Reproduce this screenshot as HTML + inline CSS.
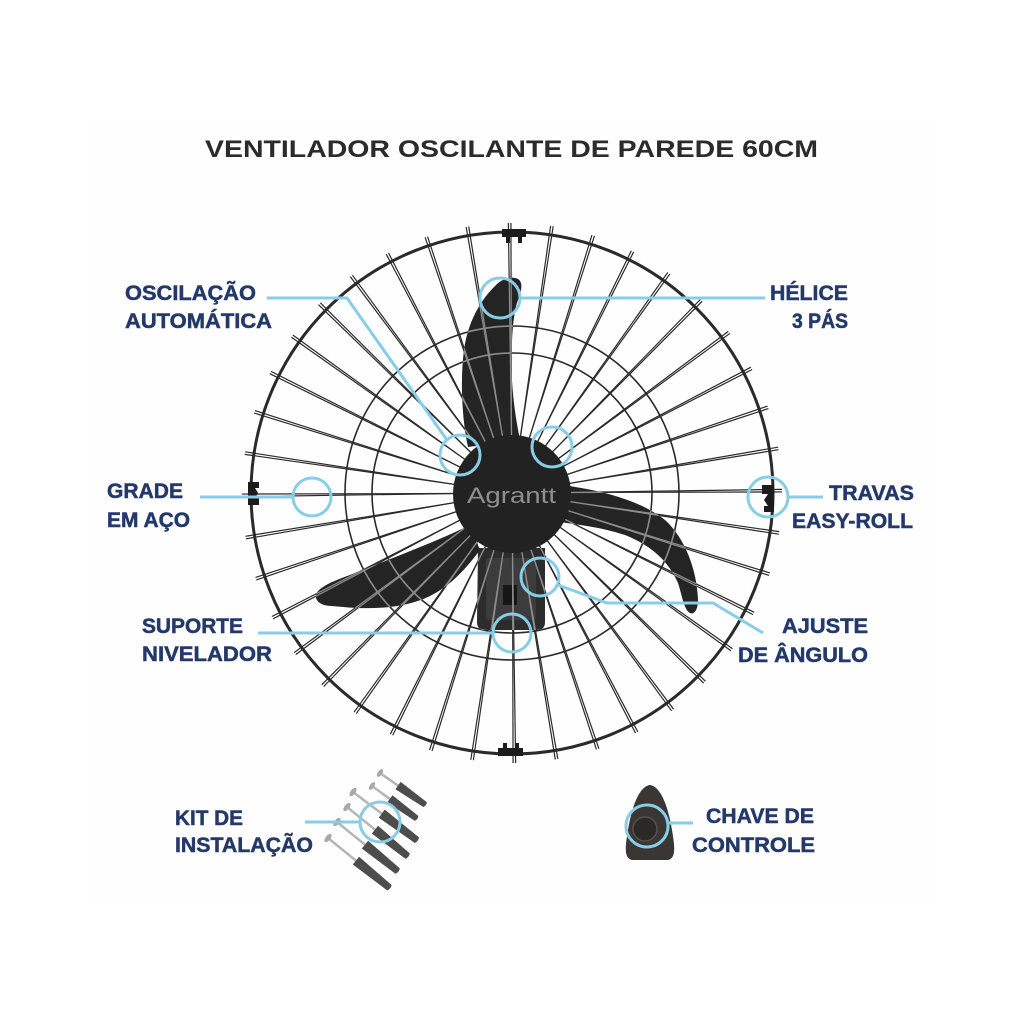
<!DOCTYPE html>
<html>
<head>
<meta charset="utf-8">
<style>
  html,body{margin:0;padding:0;background:#ffffff;}
  svg{display:block;}
  .lbl{font-family:"Liberation Sans",sans-serif;font-weight:bold;font-size:21px;fill:#24396b;stroke:#24396b;stroke-width:0.5px;}
</style>
</head>
<body>
<svg width="1024" height="1024" viewBox="0 0 1024 1024" xmlns="http://www.w3.org/2000/svg">
<defs>
  <g id="sp">
    <line x1="512" y1="435" x2="510.7" y2="223"/>
    <line x1="512" y1="435" x2="513.3" y2="223"/>
  </g>
  <g id="grille" fill="none">
    <circle cx="512" cy="493" r="261" stroke-width="3"/>
    <circle cx="512" cy="493" r="167" stroke-width="1.6"/>
    <circle cx="512" cy="493" r="140" stroke-width="1.6"/>
    <g stroke-width="1.2">
      <use href="#sp" transform="rotate(8.5 512 493)"/>
      <use href="#sp" transform="rotate(17.5 512 493)"/>
      <use href="#sp" transform="rotate(26.5 512 493)"/>
      <use href="#sp" transform="rotate(35.5 512 493)"/>
      <use href="#sp" transform="rotate(44.5 512 493)"/>
      <use href="#sp" transform="rotate(53.5 512 493)"/>
      <use href="#sp" transform="rotate(62.5 512 493)"/>
      <use href="#sp" transform="rotate(71.5 512 493)"/>
      <use href="#sp" transform="rotate(80.5 512 493)"/>
      <use href="#sp" transform="rotate(89.5 512 493)"/>
      <use href="#sp" transform="rotate(98.5 512 493)"/>
      <use href="#sp" transform="rotate(107.5 512 493)"/>
      <use href="#sp" transform="rotate(116.5 512 493)"/>
      <use href="#sp" transform="rotate(125.5 512 493)"/>
      <use href="#sp" transform="rotate(134.5 512 493)"/>
      <use href="#sp" transform="rotate(143.5 512 493)"/>
      <use href="#sp" transform="rotate(152.5 512 493)"/>
      <use href="#sp" transform="rotate(161.5 512 493)"/>
      <use href="#sp" transform="rotate(170.5 512 493)"/>
      <use href="#sp" transform="rotate(179.5 512 493)"/>
      <use href="#sp" transform="rotate(188.5 512 493)"/>
      <use href="#sp" transform="rotate(197.5 512 493)"/>
      <use href="#sp" transform="rotate(206.5 512 493)"/>
      <use href="#sp" transform="rotate(215.5 512 493)"/>
      <use href="#sp" transform="rotate(224.5 512 493)"/>
      <use href="#sp" transform="rotate(233.5 512 493)"/>
      <use href="#sp" transform="rotate(242.5 512 493)"/>
      <use href="#sp" transform="rotate(251.5 512 493)"/>
      <use href="#sp" transform="rotate(260.5 512 493)"/>
      <use href="#sp" transform="rotate(269.5 512 493)"/>
      <use href="#sp" transform="rotate(278.5 512 493)"/>
      <use href="#sp" transform="rotate(287.5 512 493)"/>
      <use href="#sp" transform="rotate(296.5 512 493)"/>
      <use href="#sp" transform="rotate(305.5 512 493)"/>
      <use href="#sp" transform="rotate(314.5 512 493)"/>
      <use href="#sp" transform="rotate(323.5 512 493)"/>
      <use href="#sp" transform="rotate(332.5 512 493)"/>
      <use href="#sp" transform="rotate(341.5 512 493)"/>
      <use href="#sp" transform="rotate(350.5 512 493)"/>
      <use href="#sp" transform="rotate(359.5 512 493)"/>
    </g>
  </g>
  <clipPath id="bc">
    <path d="M468,447 C462,420 460,380 464,350 C468,322 480,300 497,284 C504,278 512,276 518,279 C524,283 521,292 517,303 C512,320 511,350 512,380 C513,400 516,420 520,440 Z"/>
    <path d="M562,485 C600,490 640,500 665,520 C685,538 697,570 698,600 C698,610 694,615 690,613 C684,610 682,595 678,583 C668,560 650,545 625,535 C600,527 580,525 560,522 Z"/>
    <path d="M470,525 C440,540 400,555 350,575 C330,582 318,588 316,595 C315,602 322,606 332,606 C360,609 400,611 430,596 C450,586 465,570 480,550 Z"/>
    <path d="M478,548 L545,548 L545,622 Q545,630 537,630 L485,630 Q477,630 477,622 Z"/>
  </clipPath>
</defs>

<rect x="0" y="0" width="1024" height="1024" fill="#ffffff"/>
<rect x="89" y="124" width="846" height="780" fill="#fefefe"/>

<text x="205" y="157" font-family="Liberation Sans, sans-serif" font-weight="bold" font-size="24" fill="#2b2b2b" textLength="613" lengthAdjust="spacingAndGlyphs">VENTILADOR OSCILANTE DE PAREDE 60CM</text>

<path d="M478,548 L545,548 L545,622 Q545,630 537,630 L485,630 Q477,630 477,622 Z" fill="#2c2c2c"/>
<rect x="486" y="558" width="50" height="62" rx="3" fill="#3c3c3c"/>
<rect x="503" y="585" width="14" height="20" fill="#161616"/>

<g fill="#242424">
  <path d="M468,447 C462,420 460,380 464,350 C468,322 480,300 497,284 C504,278 512,276 518,279 C524,283 521,292 517,303 C512,320 511,350 512,380 C513,400 516,420 520,440 Z"/>
  <path d="M562,485 C600,490 640,500 665,520 C685,538 697,570 698,600 C698,610 694,615 690,613 C684,610 682,595 678,583 C668,560 650,545 625,535 C600,527 580,525 560,522 Z"/>
  <path d="M470,525 C440,540 400,555 350,575 C330,582 318,588 316,595 C315,602 322,606 332,606 C360,609 400,611 430,596 C450,586 465,570 480,550 Z"/>
</g>

<use href="#grille" stroke="#2a2a2a"/>
<use href="#grille" stroke="#8c8c8c" clip-path="url(#bc)"/>

<circle cx="512" cy="494" r="59" fill="#222222"/>
<text x="467" y="503" font-family="Liberation Sans, sans-serif" font-size="22" fill="#8f8f8f" textLength="89" lengthAdjust="spacingAndGlyphs">Agrantt</text>

<g fill="#1c1c1c">
  <path d="M502,229 h24 v8 h-4 v6 h-4 v-6 h-8 v6 h-4 v-6 h-4 z"/>
  <path d="M248,482 h11 v6 h-4 l3,5 l-3,5 h4 v7 h-11 z"/>
  <path d="M762,485 h12 v27 h-10 v-6 h4 l-4,-6 l4,-6 h-6 z"/>
  <path d="M498,756 h25 v-8 h-4 v-5 h-4 v5 h-8 v-5 h-4 v5 h-5 z"/>
</g>

<g fill="none" stroke="#88cde7" stroke-width="3">
  <polyline points="267,298 347,298 447,440"/>
  <circle cx="460" cy="455" r="20"/>
  <line x1="519" y1="298" x2="765" y2="298"/>
  <circle cx="500" cy="298" r="20"/>
  <circle cx="552" cy="447" r="20"/>
  <line x1="200" y1="497" x2="293" y2="497"/>
  <circle cx="312" cy="497" r="19"/>
  <line x1="788" y1="497" x2="823" y2="497"/>
  <circle cx="768" cy="497" r="20"/>
  <polyline points="558,585 607,603 713,603 763,633"/>
  <circle cx="540" cy="577" r="19"/>
  <line x1="258" y1="633" x2="492" y2="633"/>
  <circle cx="512" cy="633" r="19"/>
</g>

<text class="lbl" x="125" y="300" textLength="131" lengthAdjust="spacingAndGlyphs">OSCILAÇÃO</text>
<text class="lbl" x="125" y="328" textLength="147" lengthAdjust="spacingAndGlyphs">AUTOMÁTICA</text>
<text class="lbl" x="770" y="300" textLength="78" lengthAdjust="spacingAndGlyphs">HÉLICE</text>
<text class="lbl" x="792" y="328" textLength="56" lengthAdjust="spacingAndGlyphs">3 PÁS</text>
<text class="lbl" x="107" y="498" textLength="76" lengthAdjust="spacingAndGlyphs">GRADE</text>
<text class="lbl" x="107" y="527" textLength="83" lengthAdjust="spacingAndGlyphs">EM AÇO</text>
<text class="lbl" x="829" y="500" textLength="85" lengthAdjust="spacingAndGlyphs">TRAVAS</text>
<text class="lbl" x="792" y="528" textLength="121" lengthAdjust="spacingAndGlyphs">EASY-ROLL</text>
<text class="lbl" x="142" y="633" textLength="101" lengthAdjust="spacingAndGlyphs">SUPORTE</text>
<text class="lbl" x="142" y="661" textLength="130" lengthAdjust="spacingAndGlyphs">NIVELADOR</text>
<text class="lbl" x="782" y="633" textLength="86" lengthAdjust="spacingAndGlyphs">AJUSTE</text>
<text class="lbl" x="738" y="662" textLength="130" lengthAdjust="spacingAndGlyphs">DE ÂNGULO</text>
<text class="lbl" x="175" y="825" textLength="68" lengthAdjust="spacingAndGlyphs">KIT DE</text>
<text class="lbl" x="175" y="852" textLength="138" lengthAdjust="spacingAndGlyphs">INSTALAÇÃO</text>
<text class="lbl" x="706" y="823" textLength="108" lengthAdjust="spacingAndGlyphs">CHAVE DE</text>
<text class="lbl" x="692" y="852" textLength="123" lengthAdjust="spacingAndGlyphs">CONTROLE</text>

<g>
  <g transform="translate(380,773) rotate(35)">
    <line x1="0" y1="0" x2="26" y2="0" stroke="#b5b5b5" stroke-width="2.5"/>
    <path d="M22,-4.5 L55,-3 Q57,0 55,3 L22,4.5 Z" fill="#4d4d4d"/>
    <ellipse cx="0" cy="0" rx="2.2" ry="4.5" fill="#a8a8a8"/>
  </g>
  <g transform="translate(372,786) rotate(36)">
    <line x1="0" y1="0" x2="26" y2="0" stroke="#b5b5b5" stroke-width="2.5"/>
    <path d="M22,-4.5 L55,-3 Q57,0 55,3 L22,4.5 Z" fill="#4d4d4d"/>
    <ellipse cx="0" cy="0" rx="2.2" ry="4.5" fill="#a8a8a8"/>
  </g>
  <g transform="translate(353,792) rotate(37)">
    <line x1="0" y1="0" x2="40" y2="0" stroke="#b5b5b5" stroke-width="2.5"/>
    <path d="M36,-5 L80,-3.5 Q82,0 80,3.5 L36,5 Z" fill="#4d4d4d"/>
    <ellipse cx="0" cy="0" rx="2.4" ry="5" fill="#a8a8a8"/>
  </g>
  <g transform="translate(347,807) rotate(39)">
    <line x1="0" y1="0" x2="40" y2="0" stroke="#b5b5b5" stroke-width="2.5"/>
    <path d="M36,-5 L78,-3.5 Q80,0 78,3.5 L36,5 Z" fill="#4d4d4d"/>
    <ellipse cx="0" cy="0" rx="2.4" ry="5" fill="#a8a8a8"/>
  </g>
  <g transform="translate(337,822) rotate(39)">
    <line x1="0" y1="0" x2="40" y2="0" stroke="#b5b5b5" stroke-width="2.5"/>
    <path d="M36,-5 L78,-3.5 Q80,0 78,3.5 L36,5 Z" fill="#4d4d4d"/>
    <ellipse cx="0" cy="0" rx="2.4" ry="5" fill="#a8a8a8"/>
  </g>
  <g transform="translate(328,838) rotate(39)">
    <line x1="0" y1="0" x2="40" y2="0" stroke="#b5b5b5" stroke-width="2.5"/>
    <path d="M36,-5 L79,-3.5 Q81,0 79,3.5 L36,5 Z" fill="#4d4d4d"/>
    <ellipse cx="0" cy="0" rx="2.4" ry="5" fill="#a8a8a8"/>
  </g>
</g>
<g fill="none" stroke="#88cde7" stroke-width="3">
  <line x1="305" y1="822" x2="360" y2="822"/>
  <circle cx="380" cy="822" r="20"/>
</g>

<path d="M650,785 C640,786 632,805 628,830 C625,848 624,858 632,860 L668,860 C676,858 675,848 672,830 C668,805 660,786 650,785 Z" fill="#3a3634"/>
<circle cx="645" cy="829" r="12" fill="#2b2826" stroke="#55504d" stroke-width="1.5"/>
<g fill="none" stroke="#88cde7" stroke-width="3">
  <line x1="668" y1="823" x2="693" y2="823"/>
  <circle cx="647" cy="826" r="21"/>
</g>
</svg>
</body>
</html>
